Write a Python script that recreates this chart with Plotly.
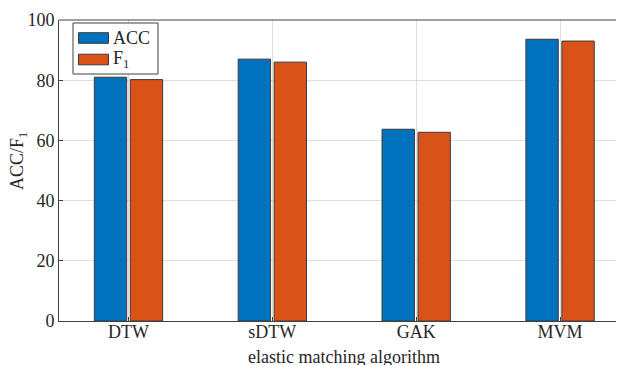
import plotly.graph_objects as go

categories = ["DTW", "sDTW", "GAK", "MVM"]
acc_values = [81.0, 87.0, 63.7, 93.6]
f1_values = [80.2, 86.0, 62.7, 93.0]
series_names = ["ACC", "F<sub>1</sub>"]
y_ticks = [0, 20, 40, 60, 80, 100]

BLUE = "#0072BD"
ORANGE = "#D95319"
FONT = "Liberation Serif"
OFF = 8  # default page body margin
W, H = 624, 365
L, T, B = 59 - OFF, 20 - OFF, 52
PW = W - L
PH = H - T - B

def px(x):
    return (x - OFF - L) / PW

def py(y):
    return (H - B - (y - OFF)) / PH

xpos = list(range(1, len(categories) + 1))

fig = go.Figure()
for name, vals, col in [(series_names[0], acc_values, BLUE), (series_names[1], f1_values, ORANGE)]:
    fig.add_trace(go.Bar(x=xpos, y=vals, name=name, marker=dict(color=col, line=dict(color="#3a3a3a", width=1)),
                         showlegend=False))

fig.update_layout(
    width=W, height=H,
    margin=dict(l=L, r=0, t=T, b=B, autoexpand=False),
    plot_bgcolor="white", paper_bgcolor="white",
    barmode="group", bargap=0.5, bargroupgap=0.1,
    font=dict(family=FONT, size=18, color="#262626"),
    xaxis=dict(range=[0.517, 4.5], tickvals=xpos, ticktext=categories, automargin=False,
               showgrid=True, gridcolor="#dedede", gridwidth=1,
               showline=True, linecolor="#404040", linewidth=1,
               ticks="inside", ticklen=4, tickcolor="#404040", ticklabelstandoff=-6,
               zeroline=False, tickfont=dict(size=18)),
    yaxis=dict(range=[0, 100], tickvals=y_ticks, automargin=False,
               showgrid=True, gridcolor="#dedede", gridwidth=1,
               showline=True, linecolor="#404040", linewidth=1,
               ticks="inside", ticklen=4, tickcolor="#404040",
               zeroline=False, tickfont=dict(size=18)),
)

# top border line
fig.add_shape(type="line", xref="paper", yref="paper", x0=0, x1=1, y0=1, y1=1,
              line=dict(color="#404040", width=1))

# axis titles
fig.add_annotation(text="ACC/F<sub>1</sub>", xref="paper", yref="paper", x=px(18), y=py(161),
                   showarrow=False, textangle=-90, font=dict(size=18), xanchor="center", yanchor="middle")
fig.add_annotation(text="elastic matching algorithm", xref="paper", yref="paper", x=px(344), y=py(357),
                   showarrow=False, font=dict(size=18), xanchor="center", yanchor="middle")

# manual legend
fig.add_shape(type="rect", xref="paper", yref="paper", x0=px(73), x1=px(158), y0=py(74), y1=py(23),
              line=dict(color="#404040", width=1), fillcolor="white", layer="above")
for i, (name, col) in enumerate([(series_names[0], BLUE), (series_names[1], ORANGE)]):
    yc = 38 + i * 21.5
    fig.add_shape(type="rect", xref="paper", yref="paper", x0=px(78.5), x1=px(108.5), y0=py(yc + 5.3), y1=py(yc - 5.3),
                  line=dict(color="#3a3a3a", width=1), fillcolor=col, layer="above")
    fig.add_annotation(text=name, xref="paper", yref="paper", x=px(111), y=py(yc),
                       showarrow=False, xanchor="left", yanchor="middle", font=dict(size=18))

fig.write_html("out.html")
